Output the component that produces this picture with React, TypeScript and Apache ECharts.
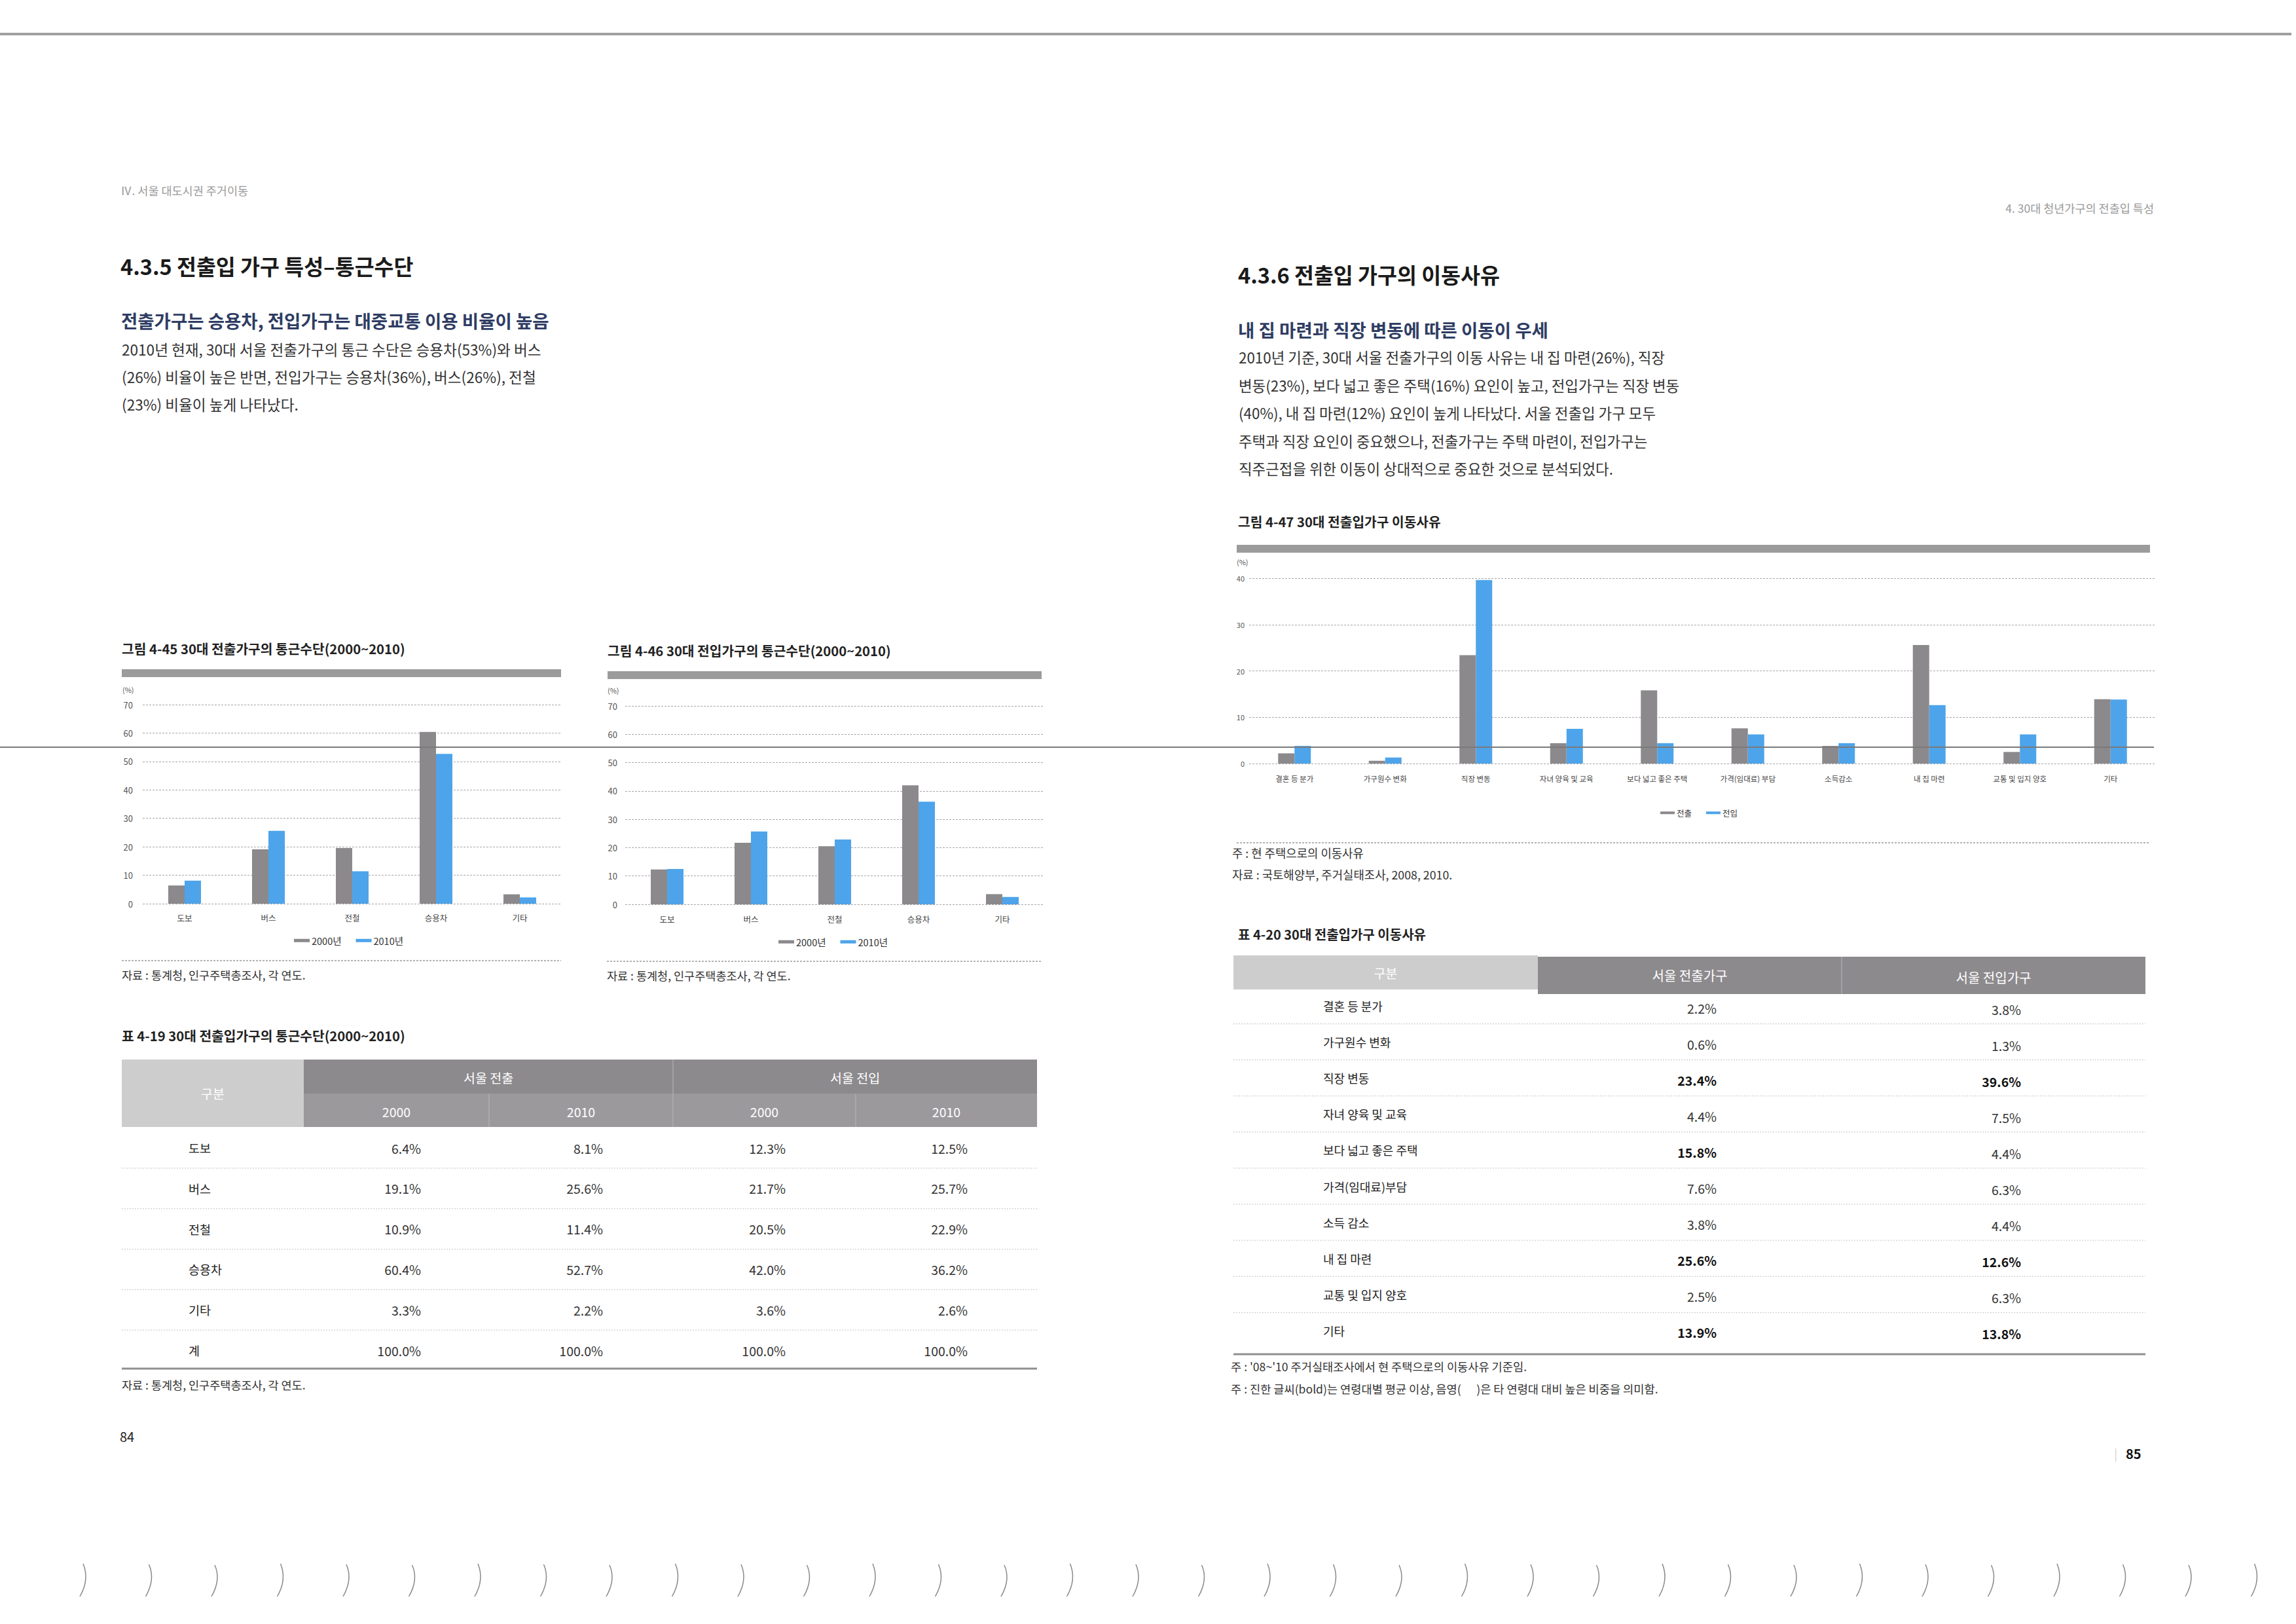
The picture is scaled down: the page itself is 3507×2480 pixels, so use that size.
import React, { useEffect, useRef } from 'react';
import * as echarts from 'echarts';

const FONT = '"Noto Sans CJK KR", "Noto Sans", sans-serif';
const GRAY = '#8c898d';
const BLUE = '#4ea4ea';

// ---------- data: Figure 4-45 / 4-46 (commute mode, %) ----------
const commuteModes = ['도보', '버스', '전철', '승용차', '기타'];
const outChart2000 = [6.4, 19.1, 19.6, 60.4, 3.3]; // as drawn in fig 4-45
const outChart2010 = [8.1, 25.6, 11.4, 52.7, 2.2];
const inChart2000 = [12.3, 21.7, 20.5, 42.0, 3.6];
const inChart2010 = [12.5, 25.7, 22.9, 36.2, 2.6];
const commuteSeriesNames = ['2000년', '2010년'];

// ---------- data: Table 4-19 ----------
const tableModes = ['도보', '버스', '전철', '승용차', '기타', '계'];
const tblOut2000 = [6.4, 19.1, 10.9, 60.4, 3.3, 100.0];
const tblOut2010 = [8.1, 25.6, 11.4, 52.7, 2.2, 100.0];
const tblIn2000 = [12.3, 21.7, 20.5, 42.0, 3.6, 100.0];
const tblIn2010 = [12.5, 25.7, 22.9, 36.2, 2.6, 100.0];
const tblGroups = ['서울 전출', '서울 전입'];
const tblYears = ['2000', '2010', '2000', '2010'];

// ---------- data: Figure 4-47 / Table 4-20 (moving reasons, %) ----------
const reasonsChart = ['결혼 등 분가', '가구원수 변화', '직장 변동', '자녀 양육 및 교육', '보다 넓고 좋은 주택', '가격(임대료) 부담', '소득감소', '내 집 마련', '교통 및 입지 양호', '기타'];
const reasonsTable = ['결혼 등 분가', '가구원수 변화', '직장 변동', '자녀 양육 및 교육', '보다 넓고 좋은 주택', '가격(임대료)부담', '소득 감소', '내 집 마련', '교통 및 입지 양호', '기타'];
const moveOut = [2.2, 0.6, 23.4, 4.4, 15.8, 7.6, 3.8, 25.6, 2.5, 13.9];
const moveIn = [3.8, 1.3, 39.6, 7.5, 4.4, 6.3, 4.4, 12.6, 6.3, 13.8];
const moveOutBold = [false, false, true, false, true, false, false, true, false, true];
const moveInBold = [false, false, true, false, false, false, false, true, false, true];
const moveSeriesNames = ['전출', '전입'];

// ---------- text ----------
const leftBody = [
  '2010년 현재, 30대 서울 전출가구의 통근 수단은 승용차(53%)와 버스',
  '(26%) 비율이 높은 반면, 전입가구는 승용차(36%), 버스(26%), 전철',
  '(23%) 비율이 높게 나타났다.',
];
const rightBody = [
  '2010년 기준, 30대 서울 전출가구의 이동 사유는 내 집 마련(26%), 직장',
  '변동(23%), 보다 넓고 좋은 주택(16%) 요인이 높고, 전입가구는 직장 변동',
  '(40%), 내 집 마련(12%) 요인이 높게 나타났다. 서울 전출입 가구 모두',
  '주택과 직장 요인이 중요했으나, 전출가구는 주택 마련이, 전입가구는',
  '직주근접을 위한 이동이 상대적으로 중요한 것으로 분석되었다.',
];

function txt(text: string, x: number, y: number, size: number, opts: any = {}) {
  return {
    type: 'text',
    x,
    y,
    silent: true,
    z: opts.z ?? 10,
    style: {
      text,
      fill: opts.color ?? '#333',
      fontSize: size,
      fontFamily: FONT,
      fontWeight: opts.weight ?? 'normal',
      textAlign: opts.align ?? 'left',
      align: opts.align ?? 'left',
      textVerticalAlign: 'middle',
      verticalAlign: 'middle',
    },
  };
}
function line(x1: number, y1: number, x2: number, y2: number, stroke: string, w: number, dash?: number[], z = 5) {
  return {
    type: 'line',
    silent: true,
    z,
    shape: { x1, y1, x2, y2 },
    style: { stroke, lineWidth: w, lineDash: dash },
  };
}
function rect(x: number, y: number, w: number, h: number, fill: string, z = 1) {
  return { type: 'rect', silent: true, z, shape: { x, y, width: w, height: h }, style: { fill } };
}
const pct = (v: number) => v.toFixed(1) + '%';

function buildGraphic() {
  const g: any[] = [];
  // page top rule
  g.push(line(0, 52, 3500, 52, '#a0a0a0', 4));
  // running headers
  g.push(txt('Ⅳ. 서울 대도시권 주거이동', 184, 290, 17.5, { color: '#9a9a9a' }));
  g.push(txt('4. 30대 청년가구의 전출입 특성', 3290, 317, 17.5, { color: '#9a9a9a', align: 'right' }));

  // left section
  g.push(txt('4.3.5 전출입 가구 특성–통근수단', 184, 405, 32.5, { color: '#1a1a1a', weight: 'bold' }));
  g.push(txt('전출가구는 승용차, 전입가구는 대중교통 이용 비율이 높음', 185, 489, 27.5, { color: '#2f3d63', weight: 'bold' }));
  leftBody.forEach((s, i) => g.push(txt(s, 186, 533 + i * 42, 22.6, { color: '#333' })));

  // right section
  g.push(txt('4.3.6 전출입 가구의 이동사유', 1891, 418, 32.5, { color: '#1a1a1a', weight: 'bold' }));
  g.push(txt('내 집 마련과 직장 변동에 따른 이동이 우세', 1891, 503, 27.5, { color: '#2f3d63', weight: 'bold' }));
  rightBody.forEach((s, i) => g.push(txt(s, 1892, 545 + i * 42.6, 22.4, { color: '#333' })));

  // figure 4-45
  g.push(txt('그림 4-45 30대 전출가구의 통근수단(2000~2010)', 186, 990, 20.3, { color: '#222', weight: 'bold' }));
  g.push(rect(186, 1022, 671, 12, '#9b9b9b'));
  g.push(txt('(%)', 187, 1053, 11, { color: '#555' }));
  g.push(line(186, 1467, 857, 1467, '#9a9a9a', 1.5, [3, 2]));
  g.push(txt('자료 : 통계청, 인구주택총조사, 각 연도.', 186, 1488, 17.5, { color: '#333' }));

  // figure 4-46
  g.push(txt('그림 4-46 30대 전입가구의 통근수단(2000~2010)', 928, 993, 20.3, { color: '#222', weight: 'bold' }));
  g.push(rect(928, 1025, 663, 12, '#9b9b9b'));
  g.push(txt('(%)', 928, 1054, 11, { color: '#555' }));
  g.push(line(927, 1468, 1590, 1468, '#9a9a9a', 1.5, [3, 2]));
  g.push(txt('자료 : 통계청, 인구주택총조사, 각 연도.', 927, 1489, 17.5, { color: '#333' }));

  // figure 4-47
  g.push(txt('그림 4-47 30대 전출입가구 이동사유', 1891, 796, 20.3, { color: '#222', weight: 'bold' }));
  g.push(rect(1889, 832, 1395, 12, '#9b9b9b'));
  g.push(txt('(%)', 1889, 858, 11, { color: '#555' }));
  g.push(line(1889, 1287, 3284, 1287, '#9a9a9a', 1.5, [3, 2]));
  g.push(txt('주 : 현 주택으로의 이동사유', 1882, 1302, 17.8, { color: '#333' }));
  g.push(txt('자료 : 국토해양부, 주거실태조사, 2008, 2010.', 1882, 1335, 17.8, { color: '#333' }));

  // ---------- Table 4-19 ----------
  g.push(txt('표 4-19 30대 전출입가구의 통근수단(2000~2010)', 186, 1581, 20.3, { color: '#222', weight: 'bold' }));
  const c1 = [186, 464, 747, 1028, 1307, 1584];
  g.push(rect(c1[0], 1618, c1[1] - c1[0], 103, '#cdcdcd'));
  g.push(rect(c1[1], 1618, c1[5] - c1[1], 52, '#8d8a8e'));
  g.push(rect(c1[1], 1670, c1[5] - c1[1], 51, '#9c999d'));
  g.push(line(c1[3], 1618, c1[3], 1721, '#b8b6b9', 1, undefined, 2));
  g.push(line(c1[2], 1670, c1[2], 1721, '#b8b6b9', 1, undefined, 2));
  g.push(line(c1[4], 1670, c1[4], 1721, '#b8b6b9', 1, undefined, 2));
  g.push(txt('구분', (c1[0] + c1[1]) / 2, 1669, 19.5, { color: '#fff', align: 'center' }));
  tblGroups.forEach((s, i) => g.push(txt(s, (c1[1 + i * 2] + c1[3 + i * 2]) / 2, 1645, 19.5, { color: '#fff', align: 'center' })));
  tblYears.forEach((s, i) => g.push(txt(s, (c1[1 + i] + c1[2 + i]) / 2, 1697, 19.5, { color: '#fff', align: 'center' })));
  const t1cols = [tblOut2000, tblOut2010, tblIn2000, tblIn2010];
  const t1Right = [643, 921, 1200, 1478];
  tableModes.forEach((m, i) => {
    const y = 1753 + i * 61.8;
    g.push(txt(m, 288, y, 18.5, { color: '#222' }));
    t1cols.forEach((col, j) => g.push(txt(pct(col[i]), t1Right[j], y, 19.5, { color: '#333', align: 'right' })));
    if (i < tableModes.length - 1) g.push(line(186, y + 31, 1584, y + 31, '#c4c4c4', 1, [2, 2]));
  });
  g.push(line(186, 2090, 1584, 2090, '#8f8f8f', 3));
  g.push(txt('자료 : 통계청, 인구주택총조사, 각 연도.', 186, 2114, 17.5, { color: '#333' }));

  // ---------- Table 4-20 ----------
  g.push(txt('표 4-20 30대 전출입가구 이동사유', 1891, 1426, 20, { color: '#222', weight: 'bold' }));
  const c2 = [1884, 2349, 2813, 3277];
  g.push(rect(c2[0], 1459, c2[1] - c2[0], 52, '#cdcdcd'));
  g.push(rect(c2[1], 1461, c2[3] - c2[1], 57, '#8d8a8e'));
  g.push(line(c2[2], 1461, c2[2], 1518, '#b8b6b9', 1, undefined, 2));
  g.push(txt('구분', (c2[0] + c2[1]) / 2, 1485, 19.5, { color: '#fff', align: 'center' }));
  g.push(txt('서울 전출가구', (c2[1] + c2[2]) / 2, 1489, 20, { color: '#fff', align: 'center' }));
  g.push(txt('서울 전입가구', (c2[2] + c2[3]) / 2, 1492, 20, { color: '#fff', align: 'center' }));
  reasonsTable.forEach((r, i) => {
    const y = 1536 + i * 55.1;
    g.push(txt(r, 2021, y, 18, { color: '#222' }));
    g.push(txt(pct(moveOut[i]), 2622, y + 3, 19.5, { color: moveOutBold[i] ? '#111' : '#333', align: 'right', weight: moveOutBold[i] ? 'bold' : 'normal' }));
    g.push(txt(pct(moveIn[i]), 3087, y + 5, 19.5, { color: moveInBold[i] ? '#111' : '#333', align: 'right', weight: moveInBold[i] ? 'bold' : 'normal' }));
    if (i < reasonsTable.length - 1) g.push(line(1884, y + 27.5, 3277, y + 27.5, '#c4c4c4', 1, [2, 2]));
  });
  g.push(line(1884, 2068, 3277, 2068, '#8f8f8f', 3));
  g.push(txt("주 : '08~'10 주거실태조사에서 현 주택으로의 이동사유 기준임.", 1880, 2086, 17.6, { color: '#333' }));
  g.push(txt('주 : 진한 글씨(bold)는 연령대별 평균 이상, 음영(      )은 타 연령대 대비 높은 비중을 의미함.', 1880, 2120, 17.6, { color: '#333' }));

  // page numbers
  g.push(txt('84', 183, 2193, 20, { color: '#222' }));
  g.push(txt('|', 3234, 2219, 18, { color: '#cfcfcf', align: 'right' }));
  g.push(txt('85', 3247, 2219, 20, { color: '#111', weight: 'bold' }));

  // scan artifact rule across the page
  g.push(line(0, 1141, 3290, 1141, '#7a7a7a', 2, undefined, 100));

  // binding marks at the bottom
  for (let k = 0; k < 34; k++) {
    const x = 129 + k * 100.5;
    g.push({
      type: 'bezierCurve',
      silent: true,
      z: 5,
      shape: { x1: x - 2, y1: 2388 + (k % 3), x2: x - 7, y2: 2438, cpx1: x + 8, cpy1: 2412 },
      style: { stroke: '#8a8a8a', lineWidth: 1.5, fill: null },
    });
  }
  return g;
}

function barSeries(name: string, data: number[], color: string, idx: number) {
  return {
    type: 'bar',
    name,
    data,
    xAxisIndex: idx,
    yAxisIndex: idx,
    barWidth: 25,
    barGap: '0%',
    itemStyle: { color },
    emphasis: { disabled: true },
  };
}

function valueAxis(idx: number, max: number, size: number, margin: number) {
  return {
    type: 'value',
    gridIndex: idx,
    min: 0,
    max,
    interval: 10,
    axisLine: { show: false },
    axisTick: { show: false },
    axisLabel: { fontSize: size, color: '#555', fontFamily: FONT, margin },
    splitLine: { show: true, lineStyle: { type: [3, 2], color: '#a5a5a5', width: 1 } },
  };
}
function catAxis(idx: number, data: string[], size: number, margin: number) {
  return {
    type: 'category',
    gridIndex: idx,
    data,
    axisLine: { show: false },
    axisTick: { show: false },
    axisLabel: { fontSize: size, color: '#444', fontFamily: FONT, margin, interval: 0 },
    splitLine: { show: false },
  };
}
function legend(names: string[], left: number, top: number, w: number, h: number, size: number, gap: number) {
  return {
    data: names,
    left,
    top,
    orient: 'horizontal',
    icon: 'rect',
    itemWidth: w,
    itemHeight: h,
    itemGap: gap,
    selectedMode: false,
    padding: 0,
    textStyle: { fontSize: size, color: '#333', fontFamily: FONT, padding: [0, 0, 0, -2] },
  };
}

export default function App() {
  const ref = useRef<HTMLDivElement>(null);
  useEffect(() => {
    if (!ref.current) return;
    const chart = echarts.init(ref.current, null, { renderer: 'svg' });
    chart.setOption({
      animation: false,
      backgroundColor: '#ffffff',
      textStyle: { fontFamily: FONT },
      grid: [
        { left: 218, top: 1076, width: 640, height: 304, containLabel: false },
        { left: 955, top: 1078, width: 640, height: 303, containLabel: false },
        { left: 1908, top: 883, width: 1385, height: 283, containLabel: false },
      ],
      xAxis: [
        catAxis(0, commuteModes, 12.5, 15),
        catAxis(1, commuteModes, 12.5, 16),
        catAxis(2, reasonsChart, 11.5, 17),
      ],
      yAxis: [valueAxis(0, 70, 13, 15), valueAxis(1, 70, 13, 12), valueAxis(2, 40, 11, 7)],
      legend: [
        legend(commuteSeriesNames, 449, 1429, 24, 5, 14.5, 22),
        legend(commuteSeriesNames, 1189, 1431, 24, 5, 14.5, 22),
        legend(moveSeriesNames, 2536, 1235, 22, 4, 12.5, 22),
      ],
      series: [
        barSeries(commuteSeriesNames[0], outChart2000, GRAY, 0),
        barSeries(commuteSeriesNames[1], outChart2010, BLUE, 0),
        barSeries(commuteSeriesNames[0], inChart2000, GRAY, 1),
        barSeries(commuteSeriesNames[1], inChart2010, BLUE, 1),
        barSeries(moveSeriesNames[0], moveOut, GRAY, 2),
        barSeries(moveSeriesNames[1], moveIn, BLUE, 2),
      ],
      graphic: { elements: buildGraphic() },
    });
    return () => chart.dispose();
  }, []);
  return (
    <div
      ref={ref}
      style={{ position: 'absolute', left: 0, top: 0, width: 3507, height: 2480, background: '#fff' }}
    />
  );
}
